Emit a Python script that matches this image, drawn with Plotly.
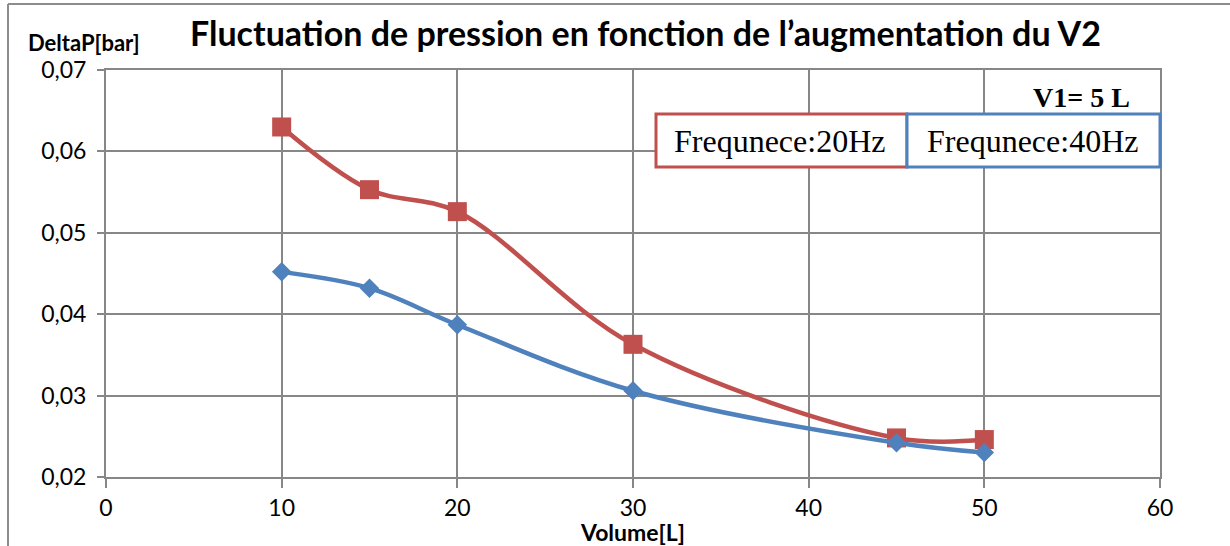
import plotly.graph_objects as go

# Volume V2 [L] and measured pressure fluctuation DeltaP [bar]
volume = [10, 15, 20, 30, 45, 50]
dp_20hz = [0.0630, 0.0553, 0.0526, 0.0363, 0.0248, 0.0246]
dp_40hz = [0.0452, 0.0432, 0.0387, 0.0306, 0.0242, 0.0230]

x_ticks = [0, 10, 20, 30, 40, 50, 60]
y_ticks = [0.02, 0.03, 0.04, 0.05, 0.06, 0.07]

RED = "#C0504D"
BLUE = "#4F81BD"
GRID = "#878787"
SANS = "Lato, Calibri, sans-serif"
SERIF = "Liberation Serif, Times New Roman, serif"

W, H = 1230, 546
L, R, T, B = 106, 70, 70, 69
pw, ph = W - L - R, H - T - B


def px(x):
    return (x - L) / pw


def py(y):
    return (H - B - y) / ph


fig = go.Figure()
fig.add_trace(go.Scatter(
    x=volume, y=dp_20hz, mode="lines+markers", name="Frequnece:20Hz",
    line=dict(color=RED, width=4.5, shape="spline", smoothing=1),
    marker=dict(symbol="square", size=19, color=RED),
    showlegend=False,
))
fig.add_trace(go.Scatter(
    x=volume, y=dp_40hz, mode="lines+markers", name="Frequnece:40Hz",
    line=dict(color=BLUE, width=4.5, shape="spline", smoothing=1),
    marker=dict(symbol="diamond", size=15, color=BLUE),
    showlegend=False,
))

axis_common = dict(
    showgrid=True, gridcolor=GRID, gridwidth=2,
    showline=True, linecolor=GRID, linewidth=2, mirror=True,
    ticks="outside", tickcolor=GRID, tickwidth=2,
    zeroline=False,
    tickfont=dict(family=SANS, size=23, color="#000000"),
)

fig.update_xaxes(range=[0, 60], tickvals=x_ticks, ticklen=9, **axis_common)
fig.update_yaxes(range=[0.02, 0.07], tickvals=y_ticks, tickformat=".2f",
                 ticklen=7, ticklabelstandoff=6, **axis_common)

annotations = [
    dict(text="<b>Fluctuation de pression en fonction de l’augmentation du V2</b>",
         x=px(645), y=py(32), font=dict(family=SANS, size=34, color="#000000")),
    dict(text="<b>DeltaP[bar]</b>",
         x=px(84), y=py(42), font=dict(family=SANS, size=22, color="#000000")),
    dict(text="<b>Volume[L]</b>",
         x=px(632), y=py(532), font=dict(family=SANS, size=23, color="#000000")),
    dict(text="<b>V1= 5 L</b>",
         x=px(1081), y=py(97), font=dict(family=SERIF, size=28, color="#000000")),
]
for a in annotations:
    a.update(xref="paper", yref="paper", showarrow=False,
             xanchor="center", yanchor="middle")
fig.update_layout(annotations=annotations)

# Legend entries drawn as framed boxes
shapes = [
    dict(type="rect", x0=px(656), x1=px(907), y0=py(167), y1=py(114),
         line=dict(color=RED, width=3), fillcolor="white", layer="above"),
    dict(type="rect", x0=px(907), x1=px(1160), y0=py(167), y1=py(114),
         line=dict(color=BLUE, width=3), fillcolor="white", layer="above"),
    # outer chart frame (top and left edges)
    dict(type="line", x0=px(8), x1=px(1232), y0=py(4), y1=py(4),
         line=dict(color="#8C8C8C", width=2)),
    dict(type="line", x0=px(8), x1=px(8), y0=py(4), y1=py(548),
         line=dict(color="#8C8C8C", width=2)),
]
for s in shapes:
    s.update(xref="paper", yref="paper")
fig.update_layout(shapes=shapes)

for label, xc in (("Frequnece:20Hz", 779), ("Frequnece:40Hz", 1032)):
    fig.add_annotation(text=label, xref="paper", yref="paper",
                       x=px(xc), y=py(141), showarrow=False,
                       xanchor="center", yanchor="middle",
                       font=dict(family=SERIF, size=32, color="#000000"))

fig.update_layout(
    width=W, height=H,
    margin=dict(l=L, r=R, t=T, b=B, pad=0),
    paper_bgcolor="white", plot_bgcolor="white",
    separators=", ",
    showlegend=False,
)

fig.write_html("out.html")
